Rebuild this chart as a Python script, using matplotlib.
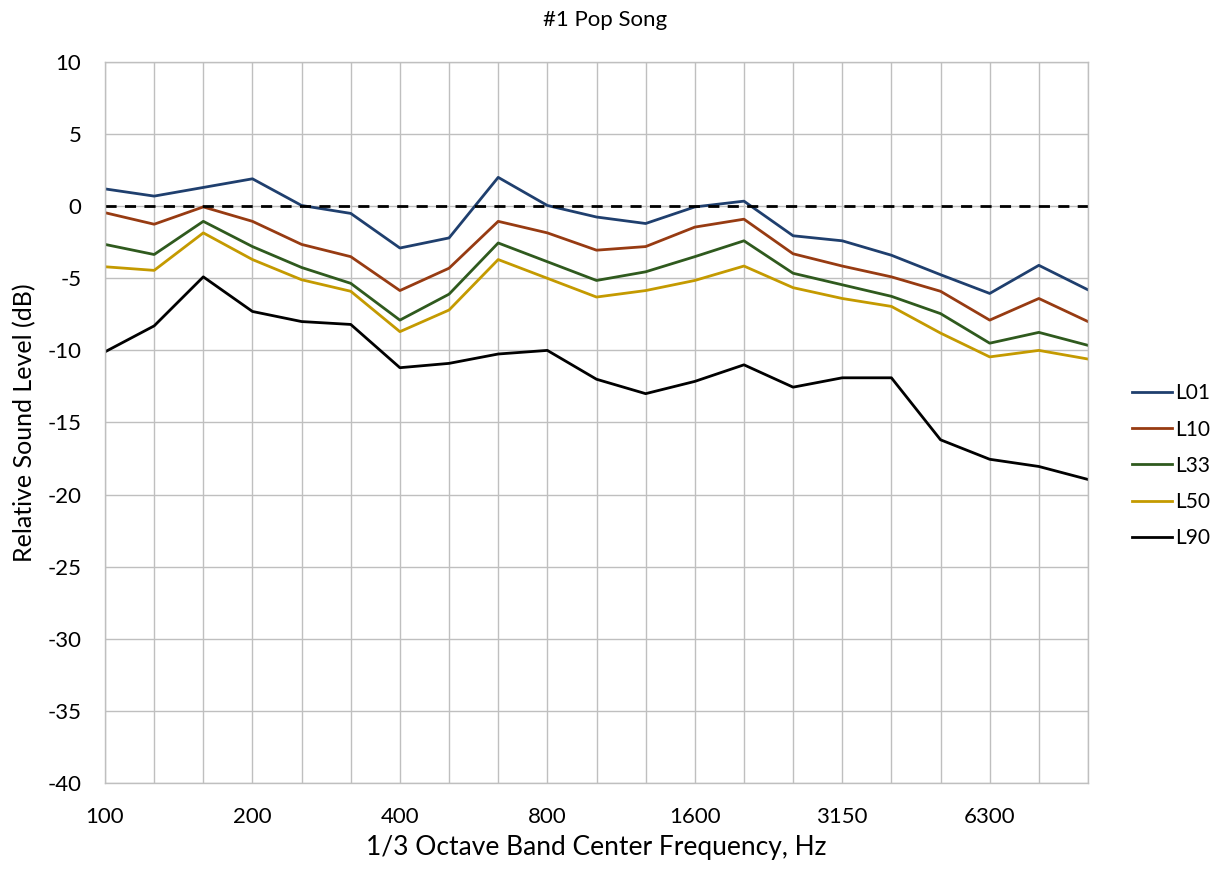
import numpy as np
import matplotlib
matplotlib.use("Agg")
import matplotlib.pyplot as plt

plt.rcParams['font.family'] = ['Lato', 'DejaVu Sans']
plt.rcParams['axes.unicode_minus'] = False

# 1/3 octave band centre frequencies, Hz
bands = ['100', '125', '160', '200', '250', '315', '400', '500', '630', '800',
         '1000', '1250', '1600', '2000', '2500', '3150', '4000', '5000',
         '6300', '8000', '10000']

# relative levels, dB
L01 = [1.2, 0.7, 1.3, 1.9, 0.05, -0.5, -2.9, -2.2, 2.0, 0.05,
       -0.75, -1.2, -0.05, 0.35, -2.05, -2.4, -3.4, -4.75, -6.05, -4.1, -5.8]
L10 = [-0.45, -1.25, -0.05, -1.05, -2.65, -3.5, -5.85, -4.3, -1.05, -1.85,
       -3.05, -2.8, -1.45, -0.9, -3.3, -4.15, -4.9, -5.9, -7.9, -6.4, -8.0]
L33 = [-2.65, -3.35, -1.05, -2.8, -4.25, -5.35, -7.9, -6.1, -2.55, -3.85,
       -5.15, -4.55, -3.5, -2.4, -4.65, -5.45, -6.25, -7.45, -9.5, -8.75, -9.65]
L50 = [-4.2, -4.45, -1.85, -3.7, -5.1, -5.9, -8.7, -7.2, -3.7, -5.0,
       -6.3, -5.85, -5.15, -4.15, -5.65, -6.4, -6.95, -8.8, -10.45, -10.0, -10.6]
L90 = [-10.1, -8.3, -4.9, -7.3, -8.0, -8.2, -11.2, -10.9, -10.25, -10.0,
       -12.0, -13.0, -12.15, -11.0, -12.55, -11.9, -11.9, -16.2, -17.55, -18.05, -18.95]

series = [('L01', L01, '#1f3f6e'), ('L10', L10, '#973b12'),
          ('L33', L33, '#2f5a1e'), ('L50', L50, '#c49a00'),
          ('L90', L90, '#000000')]

x = np.arange(len(bands))

fig = plt.figure(figsize=(12.25, 8.76), dpi=100)
ax = fig.add_axes([105/1225, 1 - 783/876, (1088 - 105)/1225, (783 - 62)/876])

for name, vals, col in series:
    ax.plot(x, vals, color=col, lw=2.0, label=name)
ax.axhline(0, color='black', lw=2.0, ls=(0, (4, 3)))

ax.set_xlim(0, len(bands) - 1)
ax.set_ylim(-40, 10)
ax.set_yticks(np.arange(-40, 11, 5))
ax.set_xticks(x)
ax.set_xticklabels([b if i % 3 == 0 else '' for i, b in enumerate(bands)])
ax.grid(True, color='#bfbfbf', lw=1.0)
ax.set_axisbelow(True)
for s in ax.spines.values():
    s.set_color('#bfbfbf')
    s.set_linewidth(1.0)
ax.tick_params(length=0, labelsize=16)
ax.tick_params(axis='y', pad=17)
ax.tick_params(axis='x', pad=17)

ax.set_xlabel('1/3 Octave Band Center Frequency, Hz', fontsize=19, labelpad=6)
ax.set_ylabel('Relative Sound Level (dB)', fontsize=18, labelpad=8)
fig.text(0.494, 1 - 20/876, '#1 Pop Song', fontsize=16, ha='center', va='center')

ax.legend(loc='center left', bbox_to_anchor=(1.026, 0.44), frameon=False,
          fontsize=15, handlelength=1.9, handletextpad=0.15, labelspacing=0.78)

fig.savefig('out.png', dpi=100)
